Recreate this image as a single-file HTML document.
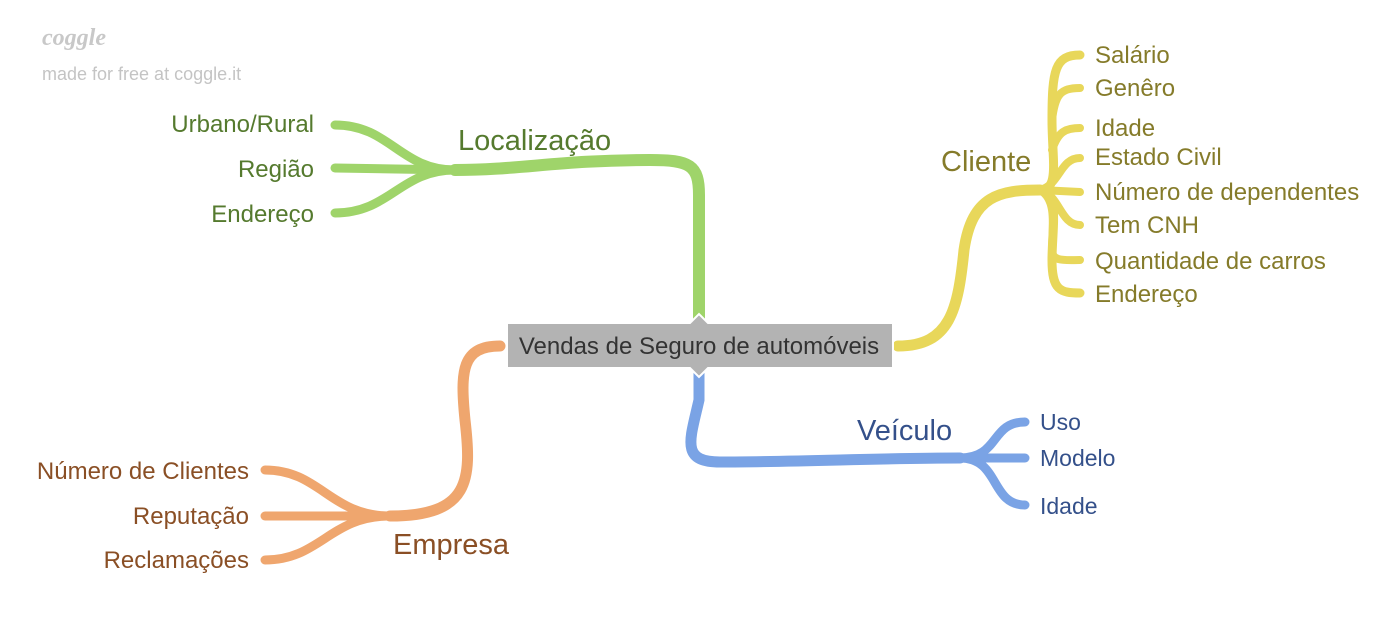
<!DOCTYPE html>
<html><head><meta charset="utf-8"><style>
body{margin:0;width:1400px;height:622px;background:#fff;overflow:hidden}
svg text{font-family:"Liberation Sans",sans-serif}
</style></head><body>
<svg width="1400" height="622" viewBox="0 0 1400 622">
<text x="42" y="45" font-size="24" font-style="italic" font-weight="bold" fill="#c8c8c8" style="font-family:'Liberation Serif',serif">coggle</text>
<text x="42" y="80" font-size="18" fill="#c4c4c4">made for free at coggle.it</text>
<g fill="none" stroke-linecap="round">
<g stroke="#9fd46a">
<path d="M699,318 L699,195 C699,165 690,160 650,160 C560,160 520,170 455,170" stroke-width="12"/>
<path d="M455,170 C400,170 390,125 335,125" stroke-width="9"/>
<path d="M455,170 L335,168" stroke-width="9"/>
<path d="M455,170 C400,170 390,213 335,213" stroke-width="9"/>
</g>
<g stroke="#e8d75a">
<path d="M898,346 C950,346 958,310 964,250 C972,195 1000,190 1040,190" stroke-width="11"/>
<path d="M1040,190 C1060,190 1052,160 1052,120 C1052,70 1055,55 1080,55" stroke-width="9"/>
<path d="M1052,120 C1055,95 1060,88 1080,88" stroke-width="8"/>
<path d="M1052,150 C1058,132 1065,128 1080,128" stroke-width="8"/>
<path d="M1040,190 C1060,185 1060,158 1080,158" stroke-width="8"/>
<path d="M1040,190 L1080,192" stroke-width="8"/>
<path d="M1040,190 C1060,195 1060,225 1080,225" stroke-width="8"/>
<path d="M1040,190 C1058,200 1052,230 1052,250 C1052,262 1065,260 1080,260" stroke-width="8"/>
<path d="M1040,190 C1060,190 1052,230 1052,260 C1052,290 1060,293 1080,293" stroke-width="9"/>
</g>
<g stroke="#7aa3e5">
<path d="M699,373 L699,400 C690,440 680,462 720,462 C800,462 880,458 960,458" stroke-width="11"/>
<path d="M960,458 C1000,458 990,422 1025,422" stroke-width="9"/>
<path d="M960,458 L1025,458" stroke-width="9"/>
<path d="M960,458 C1000,458 990,505 1025,505" stroke-width="9"/>
</g>
<g stroke="#efa66e">
<path d="M500,346 C462,346 460,370 465,420 C472,480 470,516 390,516" stroke-width="11"/>
<path d="M390,516 C330,516 320,470 265,470" stroke-width="9"/>
<path d="M390,516 L265,516" stroke-width="9"/>
<path d="M390,516 C330,516 320,560 265,560" stroke-width="9"/>
</g>
</g>
<path d="M507,323 H690 L699,314 L708,323 H893 V368 H708 L699,377 L690,368 H507 Z" fill="#b3b3b3" stroke="#fff" stroke-width="2"/>
<text x="699" y="354" font-size="24" fill="#333" text-anchor="middle">Vendas de Seguro de automóveis</text>
<g fill="#557a2e">
<text x="458" y="150" font-size="29">Localização</text>
<g font-size="24" text-anchor="end">
<text x="314" y="132">Urbano/Rural</text>
<text x="314" y="177">Região</text>
<text x="314" y="222">Endereço</text>
</g></g>
<g fill="#857b2a">
<text x="941" y="171" font-size="29">Cliente</text>
<g font-size="24">
<text x="1095" y="63">Salário</text>
<text x="1095" y="96">Genêro</text>
<text x="1095" y="136">Idade</text>
<text x="1095" y="165">Estado Civil</text>
<text x="1095" y="200">Número de dependentes</text>
<text x="1095" y="233">Tem CNH</text>
<text x="1095" y="269">Quantidade de carros</text>
<text x="1095" y="302">Endereço</text>
</g></g>
<g fill="#34508a">
<text x="857" y="440" font-size="29">Veículo</text>
<g font-size="23">
<text x="1040" y="430">Uso</text>
<text x="1040" y="466">Modelo</text>
<text x="1040" y="514">Idade</text>
</g></g>
<g fill="#8a4f25">
<text x="393" y="554" font-size="29">Empresa</text>
<g font-size="24" text-anchor="end">
<text x="249" y="479">Número de Clientes</text>
<text x="249" y="524">Reputação</text>
<text x="249" y="568">Reclamações</text>
</g></g>
</svg>
</body></html>
